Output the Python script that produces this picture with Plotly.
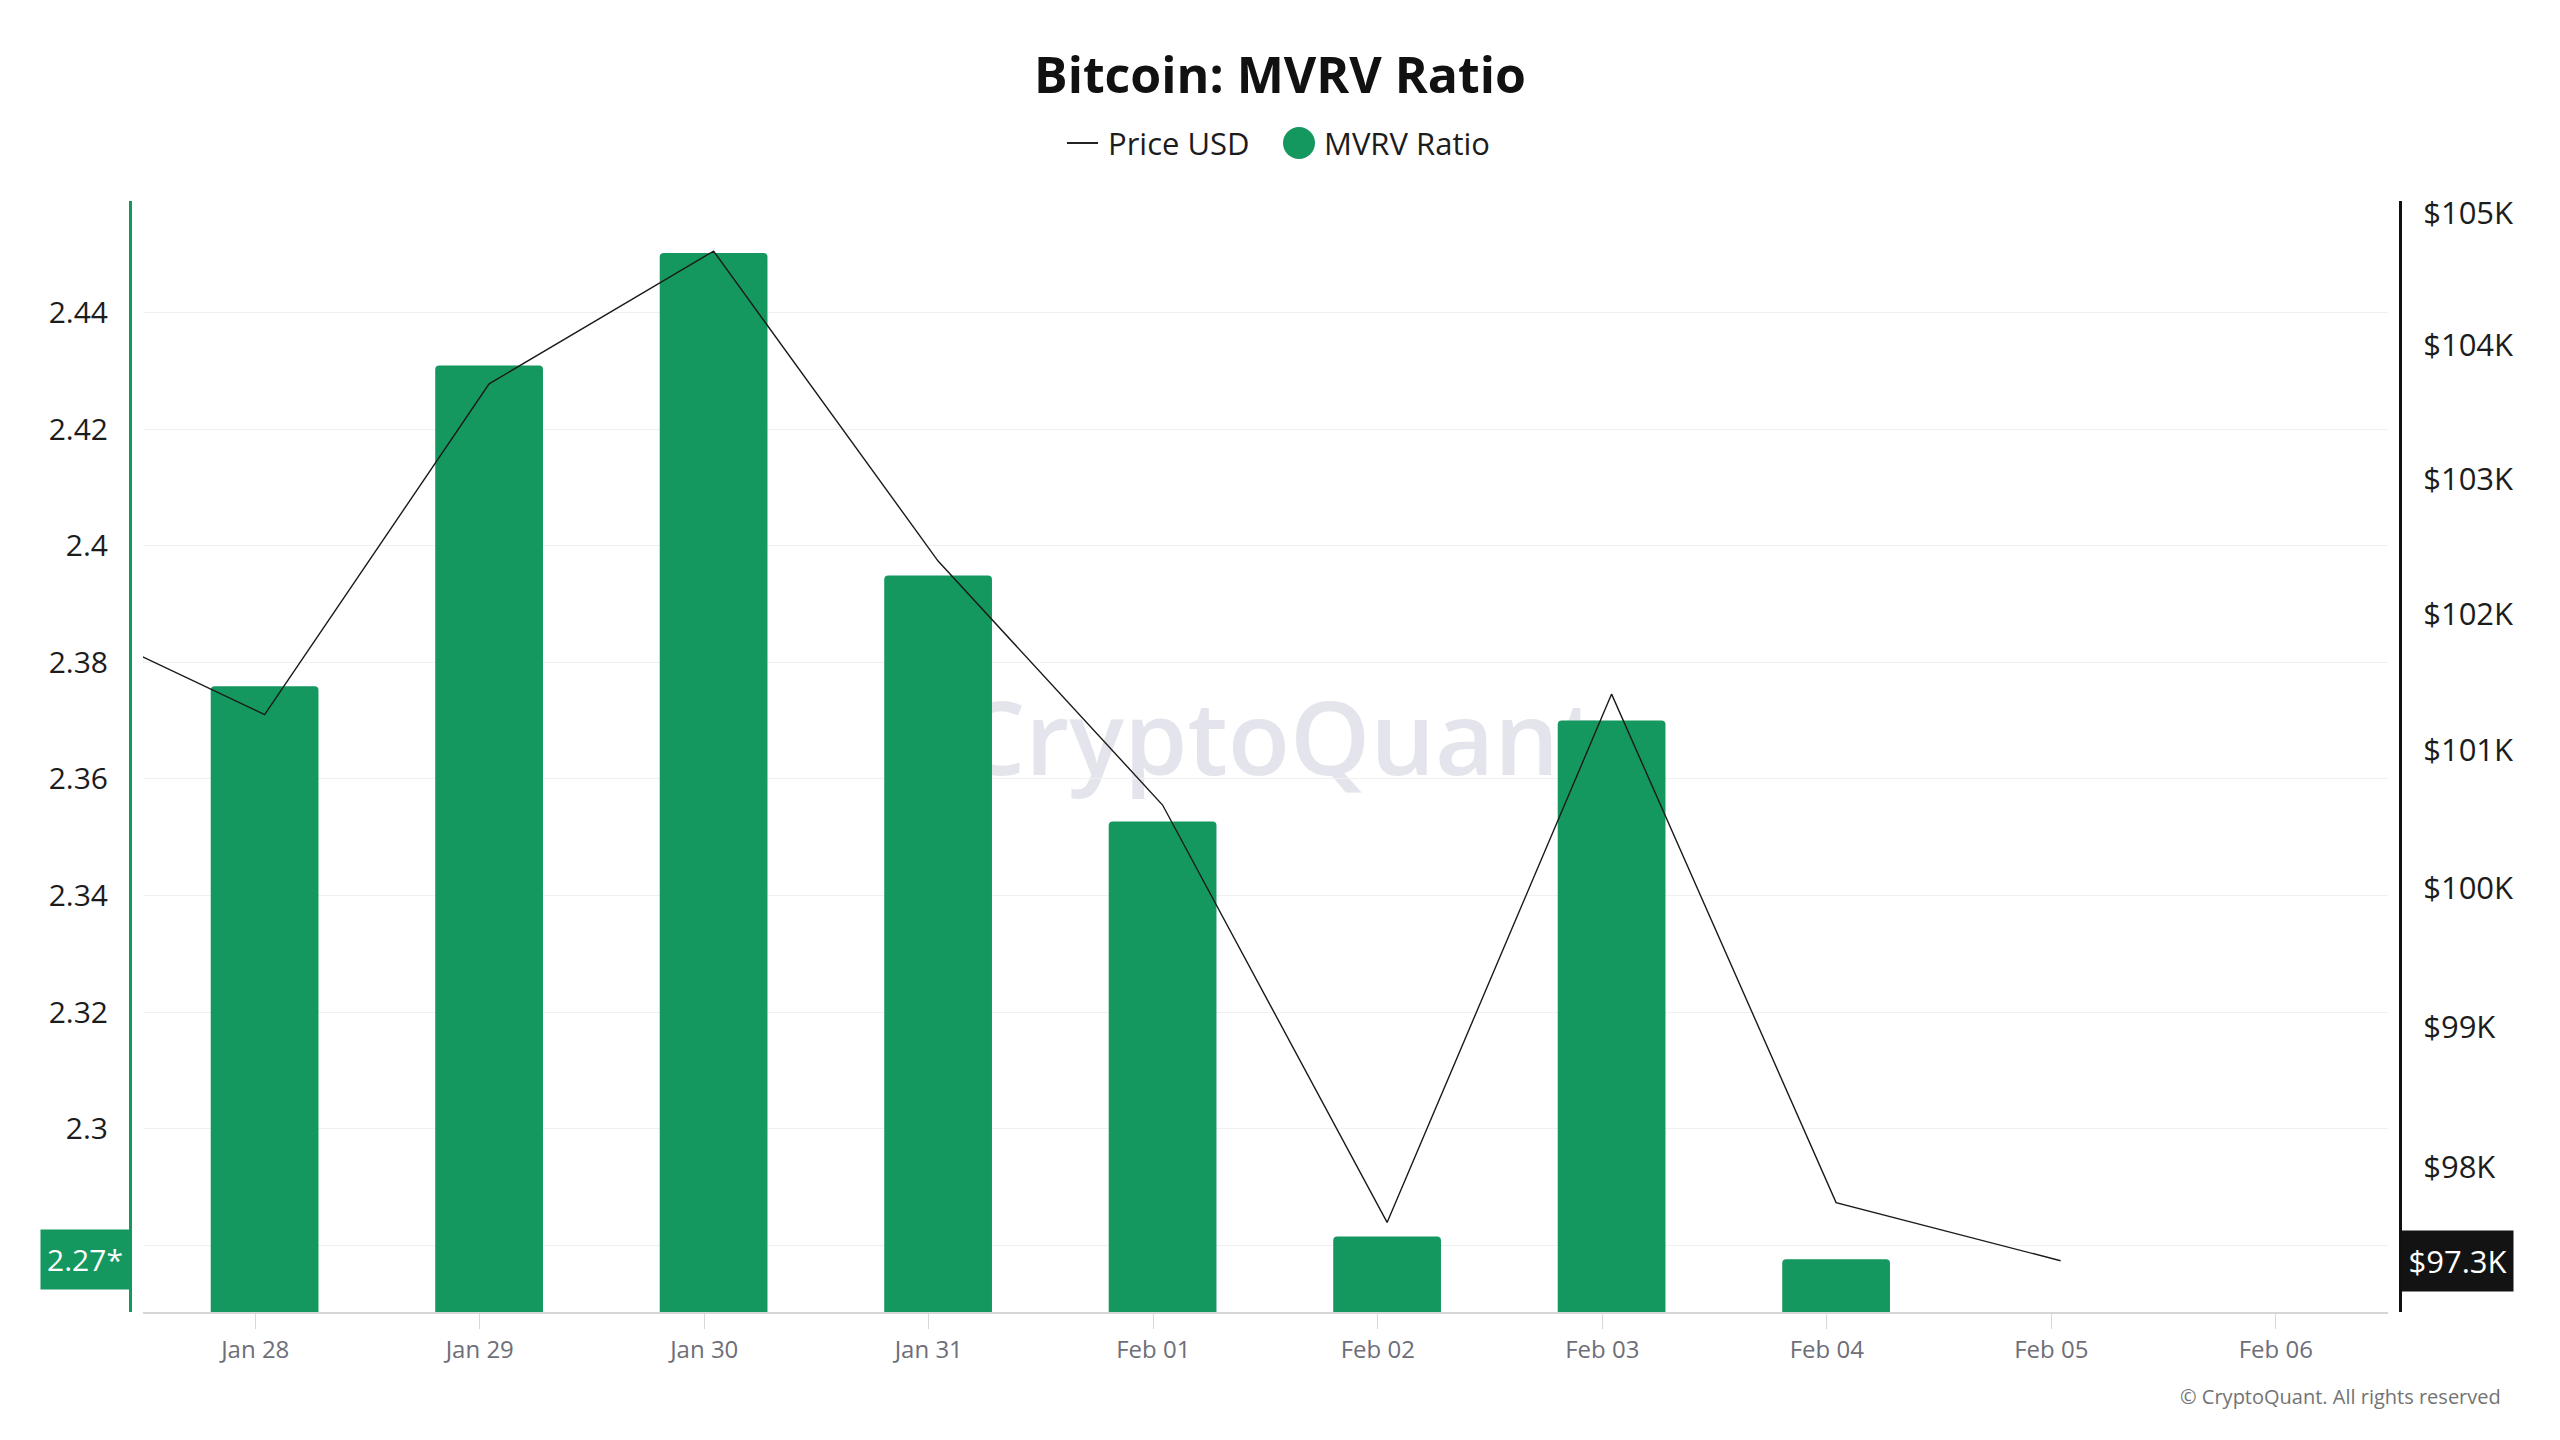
import math
import plotly.graph_objects as go

# ---------------- data ----------------
bar_dates = ["2025-01-28", "2025-01-29", "2025-01-30", "2025-01-31",
             "2025-02-01", "2025-02-02", "2025-02-03", "2025-02-04"]
mvrv_ratio = [2.3759, 2.4309, 2.4502, 2.3949, 2.3527, 2.2815, 2.3700, 2.2776]

price_dates = ["2025-01-27", "2025-01-28", "2025-01-29", "2025-01-30", "2025-01-31",
               "2025-02-01", "2025-02-02", "2025-02-03", "2025-02-04", "2025-02-05"]
price_usd = [102040, 101260, 103710, 104710, 102390, 100600, 97610, 101410, 97750, 97340]

x_tick_dates = ["2025-01-28", "2025-01-29", "2025-01-30", "2025-01-31", "2025-02-01",
                "2025-02-02", "2025-02-03", "2025-02-04", "2025-02-05", "2025-02-06"]
x_tick_labels = ["Jan 28", "Jan 29", "Jan 30", "Jan 31", "Feb 01",
                 "Feb 02", "Feb 03", "Feb 04", "Feb 05", "Feb 06"]

# the 2.28 tick is covered by the last-value badge in the reference
mvrv_ticks = [2.28, 2.30, 2.32, 2.34, 2.36, 2.38, 2.40, 2.42, 2.44]
mvrv_tick_labels = ["", "2.3", "2.32", "2.34", "2.36", "2.38", "2.4", "2.42", "2.44"]

price_ticks = [98000, 99000, 100000, 101000, 102000, 103000, 104000, 105000]
price_tick_labels = ["$98K", "$99K", "$100K", "$101K", "$102K", "$103K", "$104K", "$105K"]

# ---------------- style ----------------
W, H = 2560, 1440
GREEN = "#15985f"
FONT = "Open Sans"
TEXT = "#1c1c1c"

plot_left, plot_right = 143, 2388
plot_top, plot_bottom = 201, 1312
left_axis_x, right_axis_x = 130, 2400

# data stamps are 00:00 UTC shown in UTC+1
bar_x = [d + " 01:00" for d in bar_dates]
price_x = [d + " 01:00" for d in price_dates]

fig = go.Figure()

fig.add_trace(go.Bar(
    x=bar_x, y=mvrv_ratio, name="MVRV Ratio",
    marker=dict(color=GREEN, line=dict(width=0), cornerradius=4),
    width=0.48 * 86400000, showlegend=False, yaxis="y",
))

fig.add_trace(go.Scatter(
    x=price_x, y=price_usd, name="Price USD", mode="lines",
    line=dict(color="#1a1a1a", width=1.4), showlegend=False, yaxis="y2",
))

fig.update_layout(
    width=W, height=H,
    margin=dict(l=0, r=0, t=0, b=0, autoexpand=False),
    paper_bgcolor="white", plot_bgcolor="white",
    font=dict(family=FONT, color=TEXT),
    hovermode=False,
    title=dict(
        text="<b>Bitcoin: MVRV Ratio</b>",
        font=dict(family=FONT, size=50, color="#111111"),
        x=0.5, xanchor="center", y=1 - 75 / H, yanchor="middle", yref="container",
    ),
    xaxis=dict(
        type="date", automargin=False,
        domain=[plot_left / W, plot_right / W],
        range=["2025-01-27 12:00", "2025-02-06 12:00"],
        tickmode="array", tickvals=x_tick_dates, ticktext=x_tick_labels,
        tickfont=dict(family=FONT, size=24, color="#6e6e78"),
        ticks="outside", ticklen=15, tickwidth=1, tickcolor="#d8d8d8",
        showgrid=False, zeroline=False,
        showline=True, linecolor="#d6d6d6", linewidth=2,
        anchor="y",
    ),
    yaxis=dict(
        automargin=False,
        domain=[(H - plot_bottom) / H, (H - plot_top) / H],
        range=[2.26856, 2.45913],
        tickmode="array", tickvals=mvrv_ticks, ticktext=mvrv_tick_labels,
        tickfont=dict(family=FONT, size=30, color=TEXT),
        ticks="", ticklabelstandoff=15,
        showgrid=True, gridcolor="#f0f0f0", gridwidth=1,
        zeroline=False,
        showline=True, linecolor=GREEN, linewidth=3,
        anchor="free", position=left_axis_x / W, side="left",
    ),
    yaxis2=dict(
        type="log", automargin=False,
        overlaying="y",
        range=[math.log10(96980), math.log10(105090)],
        tickmode="array", tickvals=price_ticks, ticktext=price_tick_labels,
        tickfont=dict(family=FONT, size=31, color=TEXT),
        ticks="", ticklabelstandoff=15,
        showgrid=False, zeroline=False,
        showline=True, linecolor="#111111", linewidth=3,
        anchor="free", position=right_axis_x / W, side="right",
    ),
)

# watermark behind bars
fig.add_shape(
    type="rect", xref="paper", yref="paper",
    x0=0.35, x1=0.65, y0=1 - 800 / H, y1=1 - 684 / H,
    line=dict(width=0), fillcolor="rgba(0,0,0,0)", layer="between",
    label=dict(text="CryptoQuant", textposition="middle center",
               font=dict(family=FONT, size=102, color="#e4e4ec", weight=600)),
)

# custom legend
legend_y = 1 - 143 / H
fig.add_shape(type="line", xref="paper", yref="paper",
              x0=1067 / W, x1=1098 / W, y0=legend_y, y1=legend_y,
              line=dict(color="#222222", width=2))
fig.add_annotation(xref="paper", yref="paper", x=1106 / W, y=legend_y,
                   xanchor="left", yanchor="middle", showarrow=False,
                   text="Price USD", font=dict(family=FONT, size=31, color=TEXT))
fig.add_shape(type="circle", xref="paper", yref="paper",
              xsizemode="pixel", ysizemode="pixel",
              xanchor=1299 / W, yanchor=legend_y,
              x0=-16, x1=16, y0=-16, y1=16,
              line=dict(width=0), fillcolor=GREEN)
fig.add_annotation(xref="paper", yref="paper", x=1322 / W, y=legend_y,
                   xanchor="left", yanchor="middle", showarrow=False,
                   text="MVRV Ratio", font=dict(family=FONT, size=31, color=TEXT))

# last value labels on the axes
last_mvrv = mvrv_ratio[-1]
fig.add_annotation(
    xref="paper", yref="y", x=left_axis_x / W, y=last_mvrv,
    xanchor="right", yanchor="middle", showarrow=False,
    text=f"{math.floor(last_mvrv * 100) / 100:.2f}*",
    font=dict(family=FONT, size=30, color="white"),
    bgcolor=GREEN, width=88, height=59, borderpad=0,
)
last_price = price_usd[-1]
fig.add_annotation(
    xref="paper", yref="y2", x=(right_axis_x + 1) / W, y=math.log10(last_price),
    xanchor="left", yanchor="middle", showarrow=False,
    text=f"${last_price / 1000:.1f}K",
    font=dict(family=FONT, size=31, color="white"),
    bgcolor="#131313", width=111, height=60, borderpad=0,
)

# copyright
fig.add_annotation(
    xref="paper", yref="paper", x=2503 / W, y=1 - 1396 / H,
    xanchor="right", yanchor="middle", showarrow=False,
    text="© CryptoQuant. All rights reserved",
    font=dict(family=FONT, size=20, color="#737373"),
)

fig.write_html("out.html")
